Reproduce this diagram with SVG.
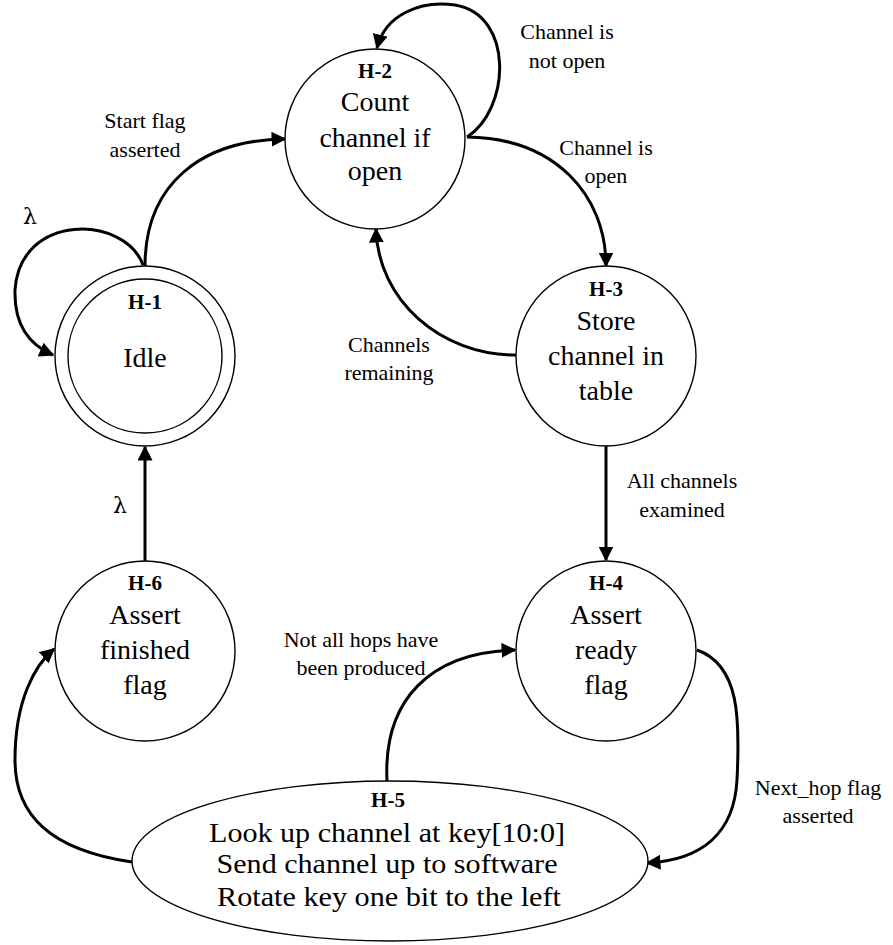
<svg xmlns="http://www.w3.org/2000/svg" width="893" height="945" viewBox="0 0 893 945">
<defs>
<marker id="arr" viewBox="0 0 10 10" refX="9" refY="5" markerWidth="15" markerHeight="15" markerUnits="userSpaceOnUse" orient="auto">
<path d="M0,0 L10,5 L0,10 z" fill="#000"/>
</marker>
<style>
.node{fill:#fff;stroke:#000;stroke-width:1.4}
.edge{fill:none;stroke:#000;stroke-width:3;marker-end:url(#arr)}
.hd{font-family:"Liberation Serif","Times New Roman",serif;font-weight:bold;font-size:21px;text-anchor:middle;fill:#000}
.nt{font-family:"Liberation Serif","Times New Roman",serif;font-size:28px;text-anchor:middle;fill:#000}
.lb{font-family:"Liberation Serif","Times New Roman",serif;font-size:22px;text-anchor:middle;fill:#000}
.lam{font-family:"DejaVu Serif","Liberation Serif",serif;font-size:22px;text-anchor:middle;fill:#000}
</style>
</defs>
<rect width="893" height="945" fill="#fff"/>

<g id="connectors">
<path class="edge" d="M143,265 C125,215 20,212 15,290 C14,325 30,345 53,355"/>
<path class="edge" d="M145,266 C145,185 200,140 285,139"/>
<path class="edge" d="M467,137 C510,110 515,15 455,5 C420,0 385,15 377,48"/>
<path class="edge" d="M467,137 C555,138 606,195 606,266"/>
<path class="edge" d="M516,355 C440,355 378,300 376,229"/>
<path class="edge" d="M606,446 L606,560"/>
<path class="edge" d="M145,561 L145,447"/>
<path class="edge" d="M387,781 C383,700 430,652 515,650"/>
<path class="edge" d="M697,650 C740,665 740,720 737,780 C734,835 700,860 647,863"/>
<path class="edge" d="M132,862 C50,850 15,815 15,760 C15,700 35,665 54,649"/>
</g>

<g id="labels">
<text class="lb" x="145" y="128">Start flag</text>
<text class="lb" x="145" y="157">asserted</text>
<text class="lam" x="30" y="224">λ</text>
<text class="lb" x="567" y="39">Channel is</text>
<text class="lb" x="567" y="68">not open</text>
<text class="lb" x="606" y="155">Channel is</text>
<text class="lb" x="606" y="183">open</text>
<text class="lb" x="389" y="352">Channels</text>
<text class="lb" x="389" y="380">remaining</text>
<text class="lb" x="682" y="488">All channels</text>
<text class="lb" x="682" y="517">examined</text>
<text class="lam" x="120" y="513">λ</text>
<text class="lb" x="361" y="647">Not all hops have</text>
<text class="lb" x="361" y="675">been produced</text>
<text class="lb" x="818" y="795">Next_hop flag</text>
<text class="lb" x="818" y="823">asserted</text>
</g>

<g id="H-1">
<circle class="node" cx="145" cy="356" r="90"/>
<circle class="node" cx="145" cy="356" r="77"/>
<text class="hd" x="145" y="309">H-1</text>
<text class="nt" x="145" y="367">Idle</text>
</g>

<g id="H-2">
<circle class="node" cx="375" cy="139" r="90"/>
<text class="hd" x="375" y="78">H-2</text>
<text class="nt" x="375" y="111">Count</text>
<text class="nt" x="375" y="147">channel if</text>
<text class="nt" x="375" y="180">open</text>
</g>

<g id="H-3">
<circle class="node" cx="606" cy="356" r="90"/>
<text class="hd" x="606" y="296">H-3</text>
<text class="nt" x="606" y="330">Store</text>
<text class="nt" x="606" y="365">channel in</text>
<text class="nt" x="606" y="400">table</text>
</g>

<g id="H-4">
<circle class="node" cx="606" cy="651" r="90"/>
<text class="hd" x="606" y="590">H-4</text>
<text class="nt" x="606" y="624">Assert</text>
<text class="nt" x="606" y="659">ready</text>
<text class="nt" x="606" y="694">flag</text>
</g>

<g id="H-6">
<circle class="node" cx="145" cy="651" r="90"/>
<text class="hd" x="145" y="590">H-6</text>
<text class="nt" x="145" y="624">Assert</text>
<text class="nt" x="145" y="659">finished</text>
<text class="nt" x="145" y="694">flag</text>
</g>

<g id="H-5">
<ellipse class="node" cx="390" cy="861" rx="258" ry="80"/>
<text class="hd" x="388" y="807">H-5</text>
<text class="nt" x="387" y="842" textLength="356" lengthAdjust="spacingAndGlyphs">Look up channel at key[10:0]</text>
<text class="nt" x="387" y="873" textLength="341" lengthAdjust="spacingAndGlyphs">Send channel up to software</text>
<text class="nt" x="389" y="906" textLength="344" lengthAdjust="spacingAndGlyphs">Rotate key one bit to the left</text>
</g>
</svg>
